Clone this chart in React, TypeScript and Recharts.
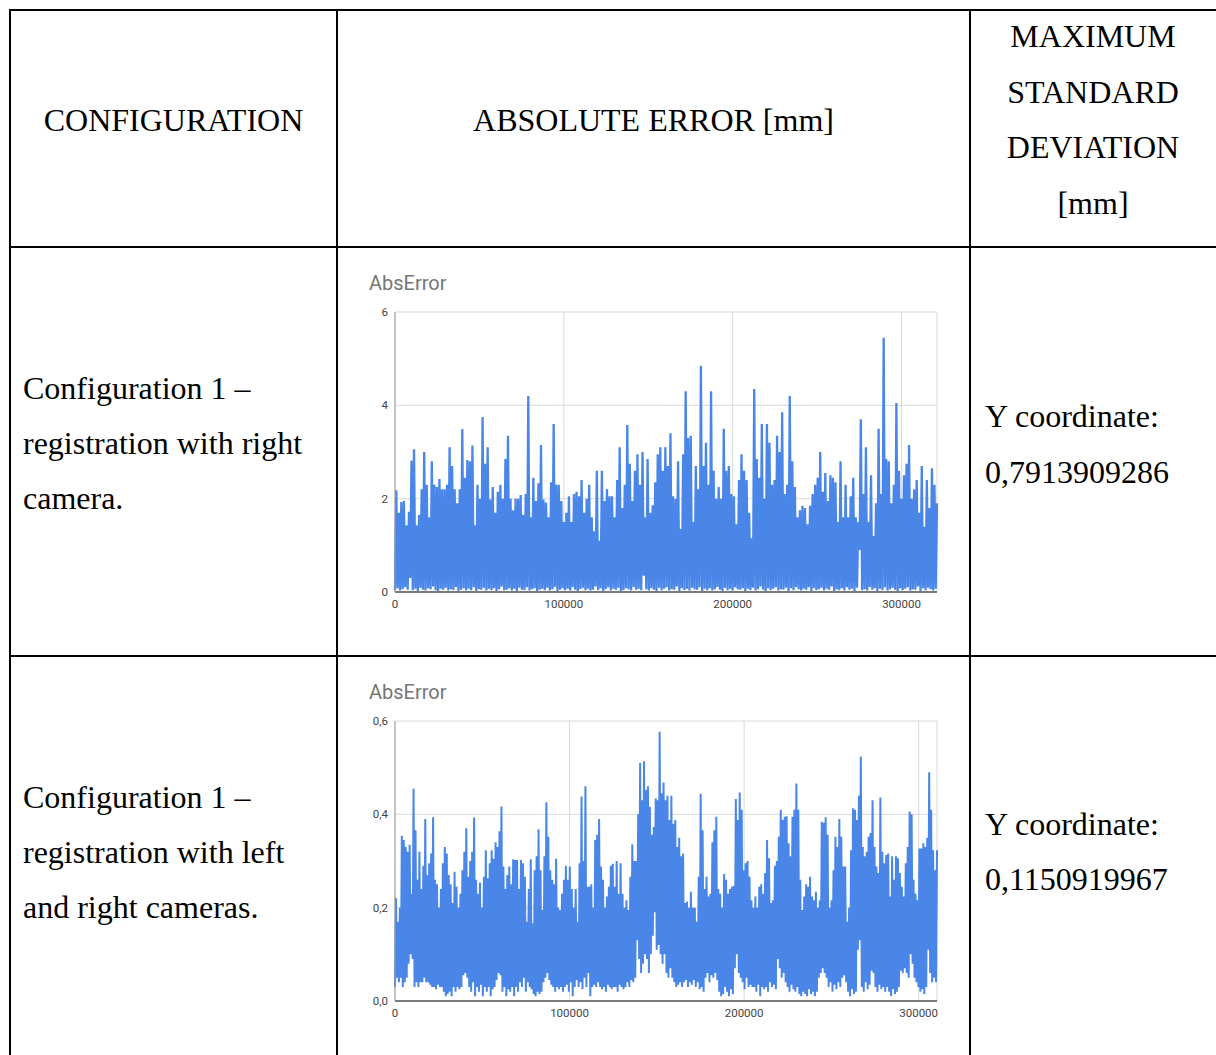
import React from "react";
import {
  LineChart,
  Line,
  XAxis,
  YAxis,
  CartesianGrid,
} from "recharts";

// Configuration 1, right camera: peak and trough of each sampling window
const rightCamPeaks = [
  2.18, 1.7, 1.93, 1.95, 1.43, 1.72, 2.82, 3.06, 1.43, 1.65, 2.2, 3.0, 2.3, 1.6, 2.8, 2.3, 2.25, 2.42, 2.2, 2.2,
  2.3, 3.1, 2.7, 2.2, 1.9, 2.2, 3.49, 2.45, 2.83, 2.8, 3.14, 1.43, 2.3, 2.0, 3.75, 2.75, 3.1, 1.98, 2.25, 1.7,
  2.15, 2.3, 2.0, 2.85, 3.35, 2.0, 1.75, 2.0, 2.0, 2.08, 1.65,
  2.1, 4.2, 1.6, 2.45, 1.95, 2.33, 3.15, 1.98, 1.92, 1.6, 2.35, 3.6, 2.3, 2.3, 1.95, 1.5, 1.7, 2.05, 1.5, 2.1,
  2.15, 2.05, 2.4, 1.7, 2.0, 2.3, 1.6, 1.3, 2.6, 1.1, 2.6, 1.95, 2.2, 2.05, 2.05, 1.6, 2.4, 3.1, 1.8, 2.3,
  3.58, 2.75, 1.95, 2.6, 2.95, 2.3, 3.0, 1.6, 2.85, 1.7, 1.86, 2.35, 2.95, 3.1, 2.6,
  3.1, 2.7, 3.4, 2.05, 2.0, 2.8, 1.35, 2.95, 4.3, 3.3, 3.35, 1.5, 2.7, 2.2, 4.85, 2.7, 3.2, 2.3, 4.3, 2.6,
  2.0, 2.25, 2.0, 3.5, 2.6, 2.7, 2.1, 2.05, 1.45, 2.4, 2.95, 2.6, 2.4, 1.7, 1.15, 4.35, 2.85, 2.45, 3.6, 2.0,
  3.6, 3.2, 2.3, 2.4, 3.35, 3.0, 3.85, 2.1, 2.3, 4.2, 2.8, 2.25, 1.6, 1.75, 1.85,
  1.8, 1.45, 1.85, 2.1, 2.3, 2.45, 3.0, 2.15, 2.55, 1.95, 2.5, 2.45, 2.35, 1.5, 2.8, 1.6, 2.3, 1.6, 2.05, 2.45,
  1.6, 1.5, 3.7, 2.1, 3.1, 1.5, 2.5, 1.2, 1.9, 3.5, 2.1, 5.45, 2.85, 2.8, 1.9, 2.3, 4.05, 2.6, 2.0, 2.5,
  2.75, 3.15, 2.0, 2.2, 2.4, 1.7, 2.7, 1.4, 2.4, 1.8, 2.65, 2.3, 1.9,
];
const rightCamTroughs = [
  0.04, 0.08, 0.03, 0.06, 0.1, 0.05, 0.3, 0.04, 0.07, 0.02, 0.09, 0.05, 0.03, 0.08, 0.06, 0.12, 0.04, 0.02, 0.07, 0.05,
  0.09, 0.03, 0.06, 0.04, 0.11, 0.02, 0.05, 0.08, 0.03, 0.07, 0.04, 0.1, 0.02, 0.06, 0.05, 0.09, 0.03, 0.07, 0.04, 0.08,
  0.02, 0.06, 0.12, 0.04, 0.05, 0.08, 0.03, 0.07, 0.02, 0.09, 0.05, 0.04, 0.1, 0.03, 0.06, 0.08, 0.02, 0.05, 0.07, 0.04,
  0.09, 0.03, 0.06, 0.11, 0.02, 0.05, 0.08, 0.04, 0.07, 0.03, 0.1, 0.05, 0.02, 0.06, 0.09, 0.04, 0.07, 0.03, 0.05, 0.12,
  0.04, 0.08, 0.02, 0.06, 0.1, 0.03, 0.07, 0.05, 0.09, 0.02, 0.04, 0.08, 0.06, 0.03, 0.11, 0.05, 0.07, 0.04, 0.35, 0.06,
  0.03, 0.08, 0.05, 0.02, 0.09, 0.04, 0.07, 0.1, 0.03, 0.06, 0.05, 0.12, 0.02, 0.08, 0.04, 0.07, 0.03, 0.09, 0.06, 0.05,
  0.1, 0.02, 0.07, 0.04, 0.08, 0.03, 0.06, 0.11, 0.05, 0.02, 0.09, 0.04, 0.07, 0.03, 0.1, 0.06, 0.05, 0.08, 0.02, 0.07,
  0.04, 0.09, 0.03, 0.06, 0.12, 0.05, 0.02, 0.08, 0.04, 0.07, 0.1, 0.03, 0.06, 0.05, 0.09, 0.02, 0.08, 0.04, 0.11, 0.06,
  0.03, 0.07, 0.05, 0.1, 0.02, 0.08, 0.04, 0.06, 0.09, 0.03, 0.07, 0.05, 0.12, 0.02, 0.06, 0.04, 0.08, 0.03, 0.1, 0.05,
  0.07, 0.02, 0.09, 0.9, 0.04, 0.06, 0.03, 0.11, 0.05, 0.08, 0.02, 0.07, 0.04, 0.1, 0.03, 0.06, 0.09, 0.05, 0.02, 0.08,
  0.04, 0.07, 0.1, 0.03, 0.06, 0.05, 0.12, 0.02, 0.08, 0.04, 0.09, 0.06, 0.03, 0.07,
];

// Configuration 1, left + right cameras
const bothCamPeaks = [
  0.22, 0.17, 0.2, 0.354, 0.345, 0.33, 0.32, 0.335, 0.23, 0.455, 0.366, 0.26, 0.32, 0.24, 0.29, 0.39, 0.27, 0.295, 0.316, 0.394,
  0.26, 0.25, 0.2, 0.24, 0.295, 0.33, 0.316, 0.27, 0.25, 0.21, 0.277, 0.245, 0.2, 0.23, 0.28, 0.32, 0.37, 0.266, 0.3, 0.32,
  0.393, 0.26, 0.23, 0.254, 0.2, 0.266, 0.323, 0.263, 0.295, 0.323, 0.305, 0.34, 0.33, 0.364, 0.417, 0.288, 0.24, 0.27, 0.288, 0.25,
  0.304, 0.302, 0.302, 0.24, 0.302, 0.295, 0.266, 0.17, 0.24, 0.304, 0.166, 0.28, 0.31, 0.368, 0.28, 0.195, 0.31, 0.426, 0.352, 0.28,
  0.26, 0.25, 0.305, 0.2, 0.195, 0.23, 0.26, 0.29,
  0.26, 0.288, 0.24, 0.2, 0.24, 0.17, 0.295, 0.438, 0.3, 0.46, 0.245, 0.245, 0.25, 0.2, 0.345, 0.356, 0.39, 0.288, 0.26, 0.2,
  0.224, 0.245, 0.29, 0.294, 0.245, 0.3, 0.23, 0.295, 0.23, 0.2, 0.216, 0.195, 0.266, 0.336, 0.3, 0.3, 0.4, 0.51, 0.43, 0.514,
  0.452, 0.46, 0.416, 0.356, 0.373, 0.434, 0.43, 0.577, 0.445, 0.468, 0.43, 0.44, 0.388, 0.44, 0.38, 0.388, 0.33, 0.35, 0.31, 0.316,
  0.21, 0.213, 0.2, 0.234, 0.2, 0.2, 0.17, 0.266, 0.444, 0.366, 0.24, 0.266, 0.224, 0.23, 0.34, 0.366, 0.395, 0.24, 0.23, 0.2,
  0.272, 0.26, 0.23, 0.24, 0.245, 0.247, 0.433, 0.388, 0.447, 0.41, 0.28, 0.295, 0.3, 0.266, 0.216, 0.2,
  0.224, 0.2, 0.245, 0.25, 0.23, 0.274, 0.345, 0.306, 0.21, 0.216, 0.29, 0.3, 0.352, 0.41, 0.388, 0.395, 0.396, 0.338, 0.31, 0.395,
  0.41, 0.466, 0.41, 0.26, 0.195, 0.224, 0.25, 0.245, 0.266, 0.224, 0.216, 0.234, 0.2, 0.216, 0.384, 0.382, 0.394, 0.356, 0.2, 0.216,
  0.28, 0.352, 0.33, 0.39, 0.352, 0.288, 0.288, 0.17, 0.2, 0.323, 0.413, 0.41, 0.388, 0.44, 0.524, 0.33, 0.31, 0.32, 0.352, 0.36,
  0.43, 0.33, 0.288, 0.274, 0.436, 0.32, 0.295, 0.313, 0.316, 0.224, 0.31, 0.26, 0.31, 0.306, 0.274, 0.245, 0.224, 0.295, 0.33, 0.406,
  0.4, 0.26, 0.23, 0.216, 0.327, 0.327, 0.338, 0.33, 0.35, 0.49, 0.41, 0.323, 0.28, 0.323,
];
const bothCamTroughs = [
  0.03, 0.05, 0.04, 0.05, 0.03, 0.04, 0.05, 0.08, 0.1, 0.09, 0.03, 0.04, 0.03, 0.04, 0.04, 0.05, 0.04, 0.04, 0.035, 0.03,
  0.03, 0.025, 0.035, 0.03, 0.03, 0.02, 0.01, 0.015, 0.02, 0.01, 0.03, 0.02, 0.03, 0.025, 0.03, 0.055, 0.06, 0.05, 0.03, 0.02,
  0.04, 0.01, 0.03, 0.02, 0.035, 0.01, 0.03, 0.02, 0.03, 0.01, 0.025, 0.03, 0.045, 0.06, 0.055, 0.02, 0.03, 0.01, 0.025, 0.02,
  0.03, 0.01, 0.03, 0.02, 0.04, 0.03, 0.05, 0.02, 0.04, 0.03, 0.025, 0.015, 0.01, 0.02, 0.015, 0.02, 0.04, 0.05, 0.06, 0.045,
  0.035, 0.03, 0.02, 0.03, 0.025, 0.03, 0.02, 0.03,
  0.035, 0.02, 0.04, 0.01, 0.03, 0.045, 0.03, 0.04, 0.025, 0.05, 0.03, 0.06, 0.01, 0.03, 0.035, 0.03, 0.04, 0.03, 0.025, 0.03,
  0.02, 0.035, 0.03, 0.025, 0.03, 0.03, 0.02, 0.035, 0.03, 0.025, 0.03, 0.04, 0.03, 0.045, 0.04, 0.05, 0.13, 0.09, 0.06, 0.08,
  0.1, 0.09, 0.06, 0.1, 0.14, 0.19, 0.11, 0.12, 0.1, 0.08, 0.1, 0.06, 0.05, 0.07, 0.05, 0.04, 0.03, 0.035, 0.04, 0.03,
  0.04, 0.045, 0.03, 0.04, 0.035, 0.045, 0.03, 0.04, 0.025, 0.03, 0.02, 0.05, 0.06, 0.04, 0.055, 0.05, 0.06, 0.045, 0.02, 0.01,
  0.015, 0.03, 0.02, 0.01, 0.025, 0.015, 0.07, 0.1, 0.06, 0.05, 0.04, 0.025, 0.05, 0.03, 0.035, 0.03,
  0.03, 0.02, 0.035, 0.01, 0.03, 0.025, 0.03, 0.02, 0.04, 0.03, 0.035, 0.025, 0.09, 0.07, 0.05, 0.06, 0.04, 0.03, 0.02, 0.035,
  0.025, 0.02, 0.03, 0.015, 0.01, 0.02, 0.015, 0.01, 0.025, 0.015, 0.02, 0.01, 0.02, 0.05, 0.06, 0.07, 0.06, 0.05, 0.03, 0.04,
  0.02, 0.035, 0.025, 0.04, 0.03, 0.05, 0.055, 0.04, 0.02, 0.01, 0.025, 0.015, 0.02, 0.11, 0.13, 0.03, 0.02, 0.04, 0.025, 0.035,
  0.065, 0.06, 0.03, 0.02, 0.035, 0.025, 0.03, 0.02, 0.03, 0.02, 0.01, 0.025, 0.015, 0.02, 0.03, 0.065, 0.06, 0.07, 0.06, 0.05,
  0.1, 0.08, 0.05, 0.04, 0.03, 0.02, 0.025, 0.015, 0.03, 0.11, 0.06, 0.04, 0.05, 0.04,
];

const rightCamSamples = 321000;
const bothCamSamples = 310500;
const sampleTicks = [0, 100000, 200000, 300000];
const rightCamYTicks = [0, 2, 4, 6];
const bothCamYTicks = [0, 0.2, 0.4, 0.6];

// interleave trough / peak per window along the sample index
function buildSeries(peaks: number[], troughs: number[], total: number) {
  const n = peaks.length * 2;
  const step = total / (n - 1);
  const rows: { x: number; v: number }[] = [];
  peaks.forEach((p, i) => {
    rows.push({ x: 2 * i * step, v: troughs[i] });
    rows.push({ x: (2 * i + 1) * step, v: p });
  });
  return rows;
}

const SERIF = "'Liberation Serif', 'Times New Roman', serif";
const SANS = "Roboto, Arial, sans-serif";
const LINE = "#000";

const tickStyle = { fontSize: 11.5, fill: "#444", fontFamily: SANS };

interface AbsErrorChartProps {
  data: { x: number; v: number }[];
  xMax: number;
  yMax: number;
  yTicks: number[];
  decimalComma?: boolean;
  height: number;
  marginBottom: number;
  strokeWidth: number;
}

function AbsErrorChart({ data, xMax, yMax, yTicks, decimalComma, height, marginBottom, strokeWidth }: AbsErrorChartProps) {
  const fmtY = (v: number) => (decimalComma ? v.toFixed(1).replace(".", ",") : String(v));
  return (
    <LineChart
      width={633}
      height={height}
      data={data}
      margin={{ top: 64, right: 33, bottom: marginBottom, left: 28 }}
    >
      <CartesianGrid stroke="#d9d9d9" />
      <XAxis
        dataKey="x"
        type="number"
        domain={[0, xMax]}
        ticks={sampleTicks}
        height={30}
        tickLine={false}
        tickSize={6}
        tickMargin={2}
        axisLine={{ stroke: "#555", strokeWidth: 1.5 }}
        tick={tickStyle}
      />
      <YAxis
        type="number"
        domain={[0, yMax]}
        ticks={yTicks}
        width={30}
        tickLine={false}
        tickSize={5}
        tickMargin={2}
        tickFormatter={fmtY}
        axisLine={{ stroke: "#999" }}
        tick={tickStyle}
      />
      <Line
        dataKey="v"
        type="linear"
        stroke="#4a86e8"
        strokeWidth={strokeWidth}
        dot={false}
        activeDot={false}
        isAnimationActive={false}
      />
    </LineChart>
  );
}

function HLine({ y }: { y: number }) {
  return <div style={{ position: "absolute", left: 9, top: y, width: 1207, height: 2, background: LINE }} />;
}

function VLine({ x }: { x: number }) {
  return <div style={{ position: "absolute", left: x, top: 9, width: 2, height: 1046, background: LINE }} />;
}

function TextBlock({
  left,
  top,
  width,
  lines,
  lineHeight,
  align,
}: {
  left: number;
  top: number;
  width: number;
  lines: string[];
  lineHeight: number;
  align: "left" | "center";
}) {
  return (
    <div
      style={{
        position: "absolute",
        left,
        top,
        width,
        textAlign: align,
        fontFamily: SERIF,
        fontSize: 32,
        lineHeight: `${lineHeight}px`,
        color: "#000",
        whiteSpace: "nowrap",
      }}
    >
      {lines.map((l) => (
        <div key={l}>{l}</div>
      ))}
    </div>
  );
}

const chartTitle = (top: number) => (
  <div
    style={{
      position: "absolute",
      left: 369,
      top,
      fontFamily: SANS,
      fontSize: 20,
      lineHeight: "20px",
      color: "#757575",
    }}
  >
    AbsError
  </div>
);

export default function App() {
  const rightData = buildSeries(rightCamPeaks, rightCamTroughs, rightCamSamples);
  const bothData = buildSeries(bothCamPeaks, bothCamTroughs, bothCamSamples);

  return (
    <div
      style={{
        position: "absolute",
        left: 0,
        top: 0,
        width: 1216,
        height: 1055,
        overflow: "hidden",
        background: "#fff",
      }}
    >
      <HLine y={9} />
      <HLine y={246} />
      <HLine y={655} />
      <VLine x={9} />
      <VLine x={336} />
      <VLine x={969} />

      {/* header row */}
      <TextBlock left={10} top={93} width={327} lines={["CONFIGURATION"]} lineHeight={55} align="center" />
      <TextBlock left={337} top={93} width={633} lines={["ABSOLUTE ERROR [mm]"]} lineHeight={55} align="center" />
      <TextBlock
        left={970}
        top={9}
        width={246}
        lines={["MAXIMUM", "STANDARD", "DEVIATION", "[mm]"]}
        lineHeight={55.7}
        align="center"
      />

      {/* row 1 */}
      <TextBlock
        left={23}
        top={361}
        width={300}
        lines={["Configuration 1 –", "registration with right", "camera."]}
        lineHeight={55}
        align="left"
      />
      <TextBlock left={985} top={388} width={230} lines={["Y coordinate:", "0,7913909286"]} lineHeight={56} align="left" />
      {chartTitle(273)}
      <div style={{ position: "absolute", left: 337, top: 248 }}>
        <AbsErrorChart
          data={rightData}
          xMax={rightCamSamples}
          yMax={6}
          yTicks={rightCamYTicks}
          height={408}
          marginBottom={34}
          strokeWidth={2.3}
        />
      </div>

      {/* row 2 */}
      <TextBlock
        left={23}
        top={770}
        width={300}
        lines={["Configuration 1 –", "registration with left", "and right cameras."]}
        lineHeight={55}
        align="left"
      />
      <TextBlock left={985} top={797} width={230} lines={["Y coordinate:", "0,1150919967"]} lineHeight={54.5} align="left" />
      {chartTitle(682)}
      <div style={{ position: "absolute", left: 337, top: 657 }}>
        <AbsErrorChart
          data={bothData}
          xMax={bothCamSamples}
          yMax={0.6}
          yTicks={bothCamYTicks}
          decimalComma
          height={399}
          marginBottom={25}
          strokeWidth={2}
        />
      </div>
    </div>
  );
}
